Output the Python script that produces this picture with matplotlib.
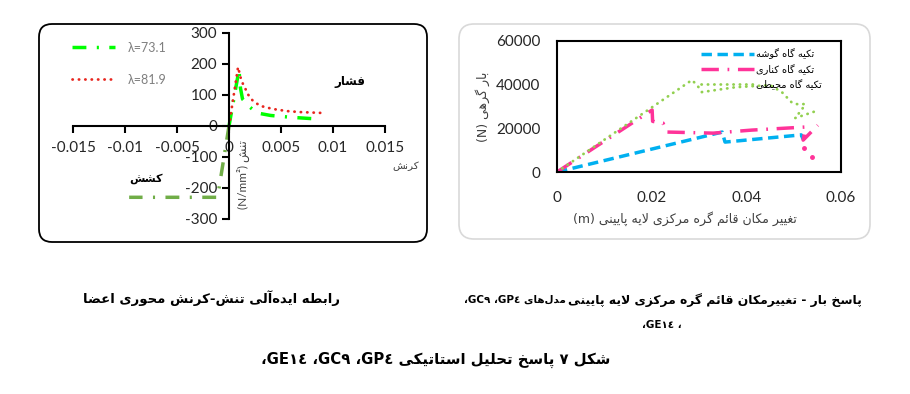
import re
import matplotlib
matplotlib.use('Agg')
import matplotlib.pyplot as plt
from matplotlib.patches import FancyBboxPatch

plt.rcParams['font.family'] = ['Lato', 'DejaVu Sans']

# ---- data: left chart (stress-strain)
comp_73_x = [0, 0.00096, 0.0011, 0.0013, 0.002, 0.0027, 0.004, 0.006, 0.0088]
comp_73_y = [0, 181, 123, 87, 61, 42, 34, 28, 22]
comp_81_x = [0, 0.00087, 0.0012, 0.0015, 0.0018, 0.0023, 0.003, 0.0042, 0.0056, 0.0068, 0.009]
comp_81_y = [0, 190, 145, 126, 103, 81, 65, 55, 48, 45, 42]
tens_x = [0, -0.0011, -0.0096]
tens_y = [0, -230, -230]
left_xticks = [-0.015, -0.01, -0.005, 0, 0.005, 0.01, 0.015]
left_xlabels = ['-0.015', '-0.01', '-0.005', '0', '0.005', '0.01', '0.015']
left_yticks = [-300, -200, -100, 0, 100, 200, 300]
left_ylabels = ['-300', '-200', '-100', '0', '100', '200', '300']

# ---- data: right chart (load-displacement)
corner_x = [0, 0.0349, 0.0355, 0.0516, 0.052]
corner_y = [0, 18300, 13700, 17000, 15000]
edge_x = [0, 0.0201, 0.0202, 0.0224, 0.0232, 0.033, 0.0412, 0.0525, 0.052, 0.0551]
edge_y = [0, 28400, 23200, 22400, 18300, 17800, 19200, 20600, 14600, 21400]
edge_tail_x = [0.0521, 0.0539]
edge_tail_y = [11000, 6900]
perim_x = [0, 0.0285, 0.0296, 0.0306, 0.0376, 0.045, 0.0475, 0.0497, 0.0507,
           0.0524, 0.0518, 0.0503, 0.0547]
perim_y = [0, 42100, 39800, 36600, 38800, 39800, 36600, 31600, 31100,
           31100, 28800, 24700, 27900]
right_xticks = [0, 0.02, 0.04, 0.06]
right_xlabels = ['0', '0.02', '0.04', '0.06']
right_yticks = [0, 20000, 40000, 60000]
right_ylabels = ['0', '20000', '40000', '60000']
legend_right = ['تکیه گاه گوشه', 'تکیه گاه کناری', 'تکیه گاه محیطی']

# ---- minimal Persian shaping + right-to-left ordering
JOIN = {
    'ا': (0xFE8D, 2), 'آ': (0xFE81, 2), 'د': (0xFEA9, 2), 'ذ': (0xFEAB, 2),
    'ر': (0xFEAD, 2), 'ز': (0xFEAF, 2), 'ژ': (0xFB8A, 2), 'و': (0xFEED, 2),
    'ب': (0xFE8F, 4), 'پ': (0xFB56, 4), 'ت': (0xFE95, 4), 'ح': (0xFEA1, 4),
    'خ': (0xFEA5, 4), 'س': (0xFEB1, 4), 'ش': (0xFEB5, 4), 'ض': (0xFEBD, 4),
    'ط': (0xFEC1, 4), 'ع': (0xFEC9, 4), 'غ': (0xFECD, 4), 'ف': (0xFED1, 4),
    'ق': (0xFED5, 4), 'ک': (0xFB8E, 4), 'گ': (0xFB92, 4), 'ل': (0xFEDD, 4),
    'م': (0xFEE1, 4), 'ن': (0xFEE5, 4), 'ه': (0xFEE9, 4), 'ی': (0xFBFC, 4),
    'ئ': (0xFE89, 4),
}


def shape(s):
    out = []
    i = 0
    while i < len(s):
        c = s[i]
        if c not in JOIN:
            if c != '\u200c':
                out.append(c)
            i += 1
            continue
        prev = s[i - 1] if i > 0 else ''
        jp = prev in JOIN and JOIN[prev][1] == 4
        nxt = s[i + 1] if i + 1 < len(s) else ''
        if c == 'ل' and nxt in ('ا', 'آ'):
            base = 0xFEFB if nxt == 'ا' else 0xFEF5
            out.append(chr(base + int(jp)))
            i += 2
            continue
        base, k = JOIN[c]
        jn = k == 4 and nxt in JOIN
        idx = 3 if (jp and jn) else 1 if jp else 2 if jn else 0
        out.append(chr(base + idx))
        i += 1
    return ''.join(out)


def fa(s):
    toks = re.findall(r'[A-Za-z0-9λ=./²\u0660-\u0669]+|.', shape(s))
    mirror = {'(': ')', ')': '('}
    return ''.join(mirror.get(t, t) for t in toks[::-1])


fig = plt.figure(figsize=(9.1, 3.94), dpi=100)

# rounded frames (inches), kept behind the axes
fig.add_artist(FancyBboxPatch((0.39, 1.52), 3.88, 2.18, boxstyle='round,pad=0,rounding_size=0.13',
                              transform=fig.dpi_scale_trans, fc='white', ec='black', lw=1.3,
                              zorder=-2))
fig.add_artist(FancyBboxPatch((4.59, 1.55), 4.11, 2.15, boxstyle='round,pad=0,rounding_size=0.15',
                              transform=fig.dpi_scale_trans, fc='white', ec='#d9d9d9', lw=1.2,
                              zorder=-2))

# ---- left chart
ax1 = fig.add_axes([73 / 910, 1 - 219 / 394, 312 / 910, 186 / 394])
ax1.patch.set_alpha(0)
ax1.plot(comp_73_x, comp_73_y, color='#00ff00', lw=2.5, ls=(0, (4, 3, 0.6, 3)), label='λ=73.1')
ax1.plot(comp_81_x, comp_81_y, color='#e8261f', lw=2, ls=(0, (0.1, 2.2)),
         dash_capstyle='round', label='λ=81.9')
ax1.plot(tens_x, tens_y, color='#70ad47', lw=2.5, ls=(0, (4, 3, 0.6, 3)))
ax1.set_xlim(-0.015, 0.015)
ax1.set_ylim(-300, 300)
ax1.spines['left'].set_position(('data', 0))
ax1.spines['bottom'].set_position(('data', 0))
ax1.spines['top'].set_visible(False)
ax1.spines['right'].set_visible(False)
for sp in ('left', 'bottom'):
    ax1.spines[sp].set_linewidth(1.5)
ax1.set_xticks(left_xticks)
ax1.set_xticklabels(left_xlabels)
ax1.set_yticks(left_yticks)
ax1.set_yticklabels(left_ylabels)
ax1.tick_params(direction='out', length=5, width=1.5, labelsize=11, colors='black',
                labelcolor='#262626')
ax1.tick_params(axis='x', pad=6)
ax1.legend(loc='upper left', bbox_to_anchor=(-0.03, 1.0), frameon=False, fontsize=9,
           handlelength=3.4, handletextpad=1.0, labelspacing=1.6, labelcolor='#7f7f7f',
           borderpad=0.2)
ax1.text(0.888, 0.72, fa('فشار'), transform=ax1.transAxes, fontsize=8.5, fontweight='bold',
         family='DejaVu Sans', ha='center')
ax1.text(0.235, 0.2, fa('کشش'), transform=ax1.transAxes, fontsize=8, fontweight='bold',
         family='DejaVu Sans', ha='center')
ax1.text(1.067, 0.285, fa('کرنش'), transform=ax1.transAxes, fontsize=7.5,
         family='DejaVu Sans', ha='center', va='center', color='#404040')
ax1.text(0.545, 0.24, fa('تنش (N/mm²)'), transform=ax1.transAxes, fontsize=8.5,
         rotation=90, ha='center', va='center', color='#404040')

# ---- right chart
ax2 = fig.add_axes([557 / 910, 1 - 172 / 394, 284 / 910, 131 / 394])
ax2.plot(corner_x, corner_y, color='#00b0f0', lw=2.5, ls=(0, (3, 1.6)), label=fa(legend_right[0]))
ax2.plot(edge_x, edge_y, color='#ff3399', lw=2.5, ls=(0, (5, 2.5, 0.5, 2.5)), label=fa(legend_right[1]))
ax2.plot(perim_x, perim_y, color='#92d050', lw=2, ls=(0, (0.1, 2.2)),
         dash_capstyle='round', label=fa(legend_right[2]))
ax2.plot(edge_tail_x, edge_tail_y, color='#ff3399', ls='none', marker='o', ms=2.5)
ax2.set_xlim(0, 0.06)
ax2.set_ylim(0, 60000)
ax2.set_xticks(right_xticks)
ax2.set_xticklabels(right_xlabels)
ax2.set_yticks(right_yticks)
ax2.set_yticklabels(right_ylabels)
ax2.tick_params(length=0, labelsize=11, labelcolor='#262626')
ax2.tick_params(axis='x', pad=14)
ax2.tick_params(axis='y', pad=12)
for sp in ax2.spines.values():
    sp.set_linewidth(1.5)
ax2.legend(loc='upper left', bbox_to_anchor=(0.49, 0.98), frameon=False,
           handlelength=5.5, handletextpad=0.2, labelspacing=0.45, borderpad=0,
           prop={'family': 'DejaVu Sans', 'size': 7})
ax2.set_xlabel(fa('تغییر مکان قائم گره مرکزی لایه پایینی (m)'), fontsize=9,
               family='DejaVu Sans', color='#404040')
ax2.xaxis.set_label_coords(0.45, -0.3)
ax2.set_ylabel(fa('بار گرهی (N)'), fontsize=9, family='DejaVu Sans', color='#404040',
               labelpad=4)

# ---- captions
fig.text(862 / 910, 1 - 300 / 394, fa('پاسخ بار - تغییرمکان قائم گره مرکزی لایه پایینی'),
         ha='right', va='center', fontsize=8.9, fontweight='bold', family='DejaVu Sans')
fig.text(566 / 910, 1 - 300 / 394, fa('مدل‌های GP٤، GC٩،'),
         ha='right', va='center', fontsize=7.5, fontweight='bold', family='DejaVu Sans')
fig.text(682 / 910, 1 - 325 / 394, fa('، GE١٤،'),
         ha='right', va='center', fontsize=7.5, fontweight='bold', family='DejaVu Sans')
fig.text(340 / 910, 1 - 298 / 394, fa('رابطه ایده‌آلی تنش-کرنش محوری اعضا'),
         ha='right', va='center', fontsize=9.5, fontweight='bold', family='DejaVu Sans')
fig.text(436 / 910, 1 - 360 / 394, fa('شکل ٧ پاسخ تحلیل استاتیکی GP٤، GC٩، GE١٤،'),
         ha='center', va='center', fontsize=10.7, fontweight='bold', family='DejaVu Sans')

fig.savefig('out.png', dpi=100, facecolor='white')
